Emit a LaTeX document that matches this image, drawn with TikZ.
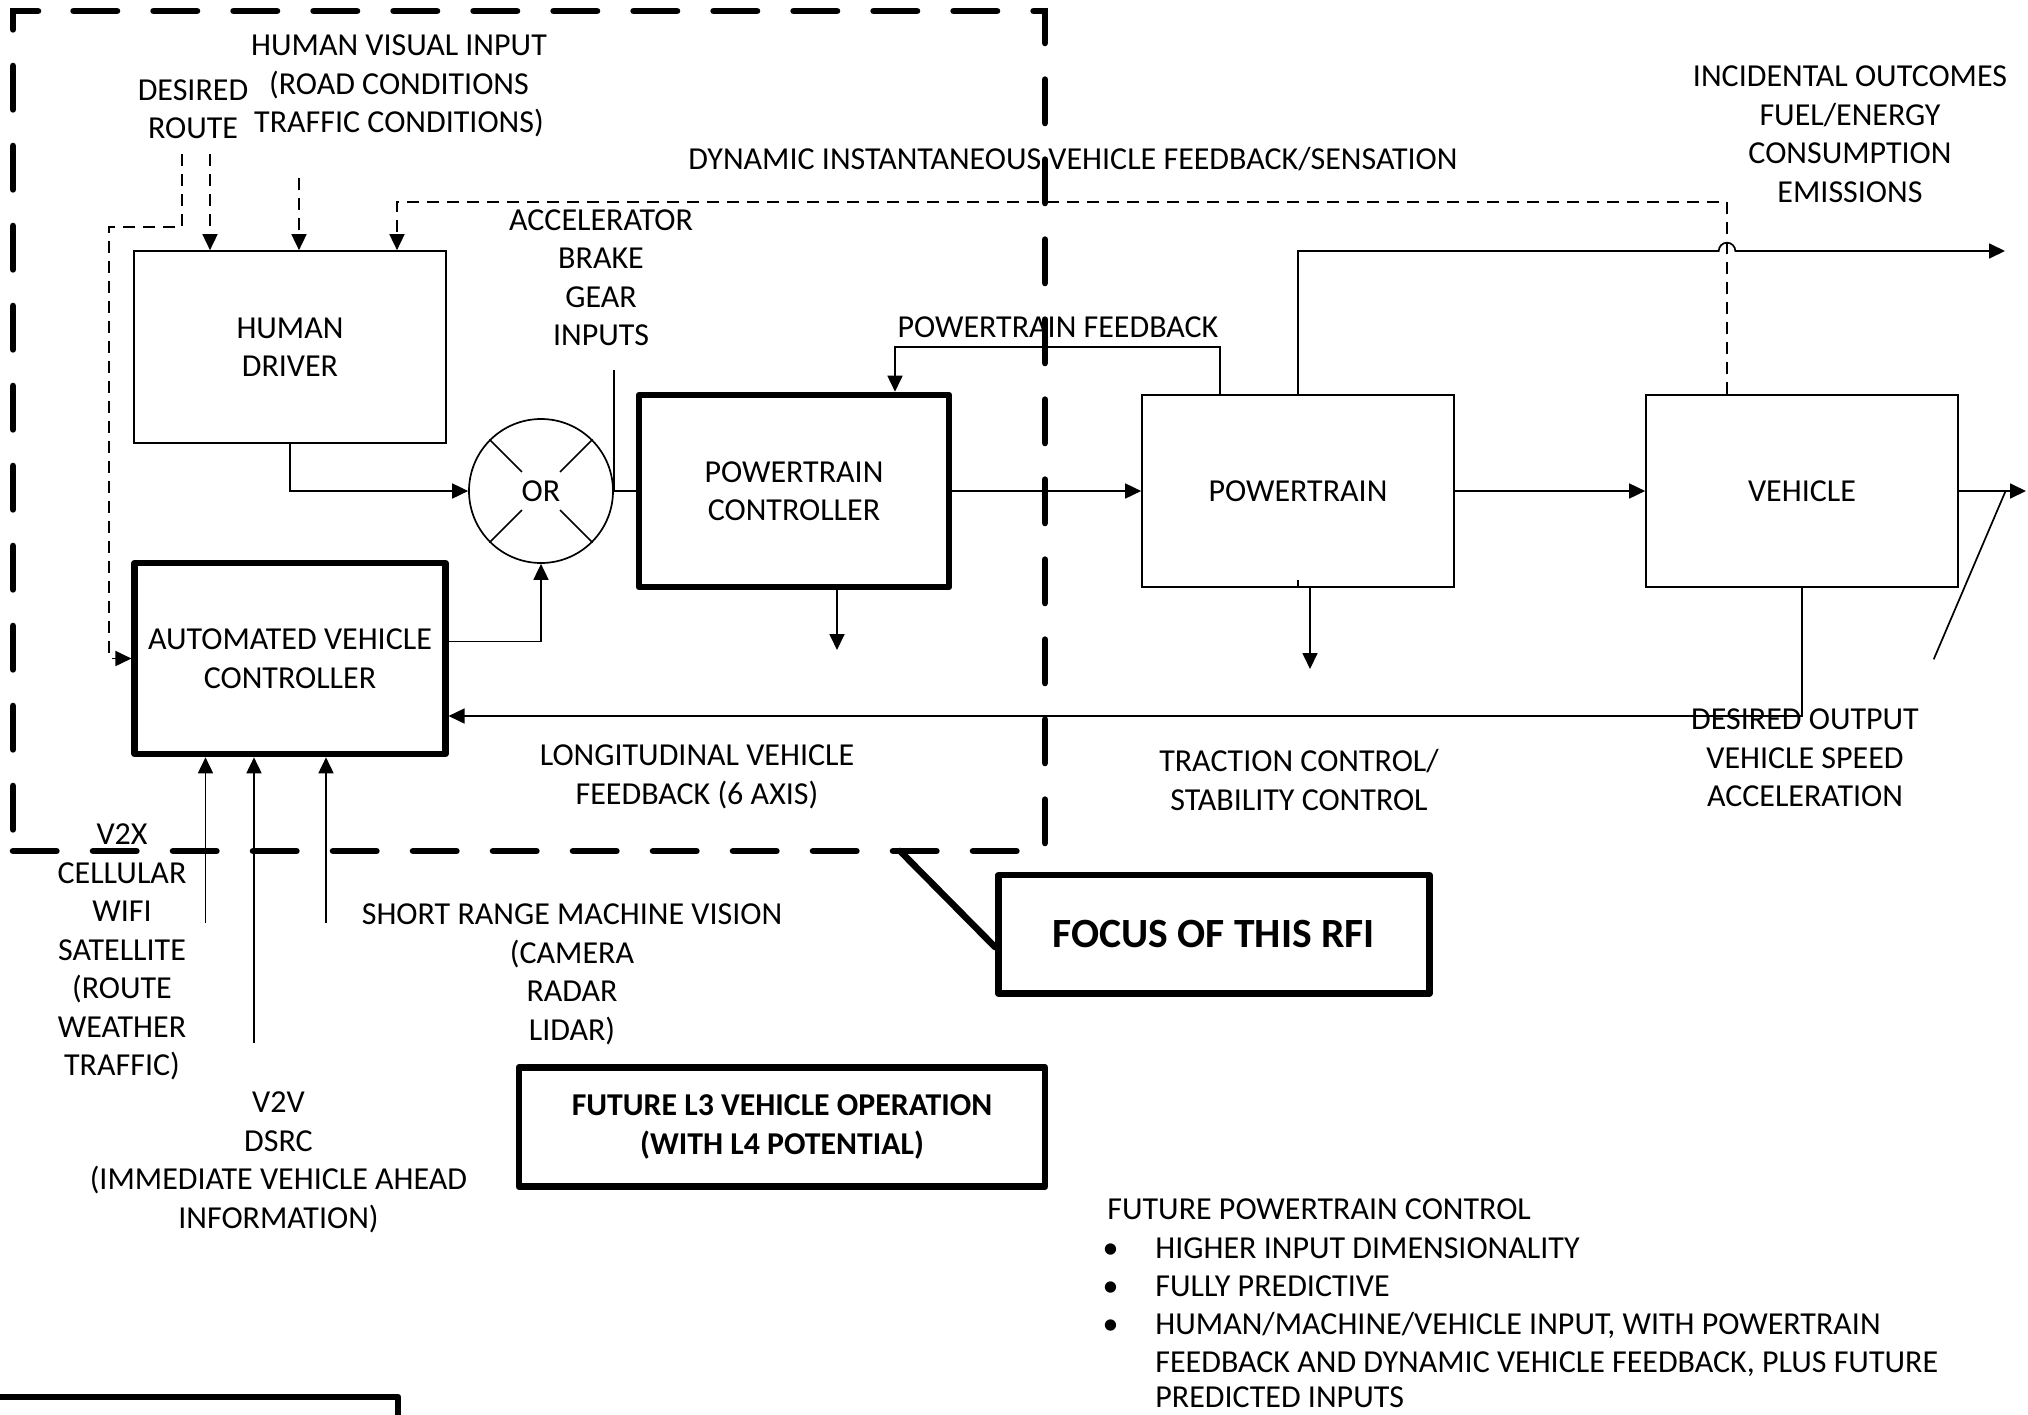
\documentclass[tikz,border=0pt]{standalone}
\usepackage{fontspec}
\setmainfont{Carlito}
\usetikzlibrary{arrows.meta,calc}
\begin{document}
\begin{tikzpicture}[x=0.5pt,y=-0.5pt,
  every node/.style={font=\fontsize{16pt}{19.25pt}\selectfont, inner sep=0pt},
  thinln/.style={line width=0.85pt},
  thickln/.style={line width=3.3pt, line join=round},
  arr/.style={-{Triangle[length=8pt,width=7.5pt]}},
  dsh/.style={dash pattern=on 6pt off 4pt},
  box/.style={draw, thinln, rectangle, minimum width=156pt, minimum height=96pt, align=center},
  tbox/.style={draw, thickln, rectangle, align=center},
  lbl/.style={align=center},
  bigdash/.style={line width=3.3pt, line cap=round, dash pattern=on 21.7pt off 18.3pt},
  bigfont/.style={font=\fontsize{20.8pt}{24pt}\selectfont\bfseries},
  boldfont/.style={font=\fontsize{15.9pt}{19.2pt}\selectfont\bfseries}
]
\useasboundingbox (0,0) rectangle (2028,1414);

% focus region (dashed)
\draw[bigdash] (38,11) -- (13,11) -- (13,851);
\draw[bigdash] (13,851) -- (1045,851) -- (1045,11) -- (38,11);

% blocks
\node[box] (hd) at (290,347) {HUMAN\\DRIVER};
\node[tbox, minimum width=155.25pt, minimum height=95.5pt] (avc) at (290,658.5) {AUTOMATED VEHICLE\\CONTROLLER};
\node[draw, thinln, circle, minimum size=72pt] (orn) at (541,491) {OR};
\node[tbox, minimum width=155pt, minimum height=96pt] (ptc) at (794,491) {POWERTRAIN\\CONTROLLER};
\node[box] (pt) at (1298,491) {POWERTRAIN};
\node[box] (veh) at (1802,491) {VEHICLE};
\node[tbox, minimum width=215.6pt, minimum height=59.2pt, bigfont] (focus) at (1213.8,934.3) {FOCUS OF THIS RFI};
\node[tbox, minimum width=263pt, minimum height=59.7pt, boldfont] (future) at (782,1127) {FUTURE L3 VEHICLE OPERATION\\(WITH L4 POTENTIAL)};

% X inside OR
\foreach \a in {45,135,225,315}
  \draw[thinln] ($(orn.center)!0.37!(orn.\a)$) -- (orn.\a);

% labels
\node[lbl] (desired) at (193,109) {DESIRED\\ROUTE};
\node[lbl] (hvi) at (399,86) {HUMAN VISUAL INPUT\\(ROAD CONDITIONS\\TRAFFIC CONDITIONS)};
\node[lbl] (dyn) at (1073,159) {DYNAMIC INSTANTANEOUS VEHICLE FEEDBACK/SENSATION};
\node[lbl] (accel) at (601,277.5) {ACCELERATOR\\BRAKE\\GEAR\\INPUTS};
\node[lbl] (pfb) at (1058,327) {POWERTRAIN FEEDBACK};
\node[lbl] (incid) at (1850,134) {INCIDENTAL OUTCOMES\\FUEL/ENERGY\\CONSUMPTION\\EMISSIONS};
\node[lbl] (lon) at (697,777) {LONGITUDINAL VEHICLE\\FEEDBACK (6 AXIS)};
\node[lbl] (trac) at (1299,780) {TRACTION CONTROL/\\STABILITY CONTROL};
\node[lbl] (dout) at (1805,758) {DESIRED OUTPUT\\VEHICLE SPEED\\ACCELERATION};
\node[lbl] (v2x) at (122,952) {V2X\\CELLULAR\\WIFI\\SATELLITE\\(ROUTE\\WEATHER\\TRAFFIC)};
\node[lbl] (srmv) at (572,974.5) {SHORT RANGE MACHINE VISION\\(CAMERA\\RADAR\\LIDAR)};
\node[lbl] (v2v) at (278.5,1162.5) {V2V\\DSRC\\(IMMEDIATE VEHICLE AHEAD\\INFORMATION)};

% future powertrain control list
\node[anchor=base west] (fpc) at (1107,1219) {FUTURE POWERTRAIN CONTROL};
\node[anchor=base] (b1) at (1110.5,1258) {\textbullet};
\node[anchor=base west] (l1) at (1155,1258) {HIGHER INPUT DIMENSIONALITY};
\node[anchor=base] (b2) at (1110.5,1296) {\textbullet};
\node[anchor=base west] (l2) at (1155,1296) {FULLY PREDICTIVE};
\node[anchor=base] (b3) at (1110.5,1334.5) {\textbullet};
\node[anchor=base west] (l3) at (1155,1334.5) {HUMAN/MACHINE/VEHICLE INPUT, WITH POWERTRAIN};
\node[anchor=base west] (l4) at (1155,1372) {FEEDBACK AND DYNAMIC VEHICLE FEEDBACK, PLUS FUTURE};
\node[anchor=base west] (l5) at (1155,1407) {PREDICTED INPUTS};

% coordinates
\coordinate (rt1) at (182,154);
\coordinate (rt2) at (210,154);
\coordinate (rtc) at (182,227);
\coordinate (rtl) at (109,227);
\coordinate (hvic) at (299,178);
\coordinate (dynR) at (1727,202);
\coordinate (dynL) at (397,202);
\coordinate (inp) at (614,370);
\coordinate (pfbR) at (1220,347);
\coordinate (pfbL) at (895,347);
\coordinate (ptcD) at (837,650);
\coordinate (ptD) at (1310,669);
\coordinate (tick) at (1298,580);
\coordinate (incU) at (1298,251);
\coordinate (incE) at (2005,251);
\coordinate (vout) at (2026,491);
\coordinate (sl1) at (1933.7,659.3);
\coordinate (sl2) at (2005.7,490.7);
\coordinate (lonR) at (1802,716);
\coordinate (in1) at (205.5,923);
\coordinate (in2) at (254,1043);
\coordinate (in3) at (326,923);
\coordinate (fp1) at (900,851);
\coordinate (fp2) at (995,947);
\coordinate (blc) at (-10,1397);
\coordinate (blr) at (398,1397);
\coordinate (blb) at (398,1430);

% dashed human inputs
\draw[thinln, dsh, arr] (rt2) -- (rt2 |- hd.north);
\draw[thinln, dsh, arr] (rt1) -- (rtc) -- (rtl) |- (avc.west);
\draw[thinln, dsh, arr] (hvic) -- (hvic |- hd.north);
\draw[thinln, dsh, arr] (dynR |- veh.north) -- (dynR) -- (dynL) -- (dynL |- hd.north);

% main flow
\draw[thinln, arr] (hd.south) |- (orn.west);
\draw[thinln, arr] ($(avc.east)+(0,-17)$) -| (orn.south);
\draw[thinln] (orn.east) -- (ptc.west);
\draw[thinln] (inp) -- (inp |- orn.east);
\draw[thinln, arr] (ptc.east) -- (pt.west);
\draw[thinln, arr] (pt.east) -- (veh.west);
\draw[thinln, arr] (veh.east) -- (vout);
\draw[thinln] (sl1) -- (sl2);

% side outputs
\draw[thinln, arr] (ptcD |- ptc.south) -- (ptcD);
\draw[thinln, arr] (ptD |- pt.south) -- (ptD);
\draw[thinln] (tick) -- (tick |- pt.south);

% powertrain feedback
\draw[thinln, arr] (pfbR |- pt.north) -- (pfbR) -- (pfbL) -- (pfbL |- ptc.north);

% incidental outcomes with jump
\draw[thinln, arr] (pt.north) -- (incU) -- (1718.7,251) arc[start angle=180, end angle=0, radius=4.15pt] -- (incE);

% longitudinal feedback
\draw[thinln, arr] (veh.south) -- (lonR) -- (lonR -| avc.east);

% AVC inputs
\draw[thinln, arr] (in1) -- (in1 |- avc.south);
\draw[thinln, arr] (in2) -- (in2 |- avc.south);
\draw[thinln, arr] (in3) -- (in3 |- avc.south);

% focus pointer
\draw[line width=3.3pt, line cap=round] (fp1) -- (fp2);

% partial box bottom-left
\draw[thickln] (blc) -- (blr) -- (blb);
\end{tikzpicture}
\end{document}
